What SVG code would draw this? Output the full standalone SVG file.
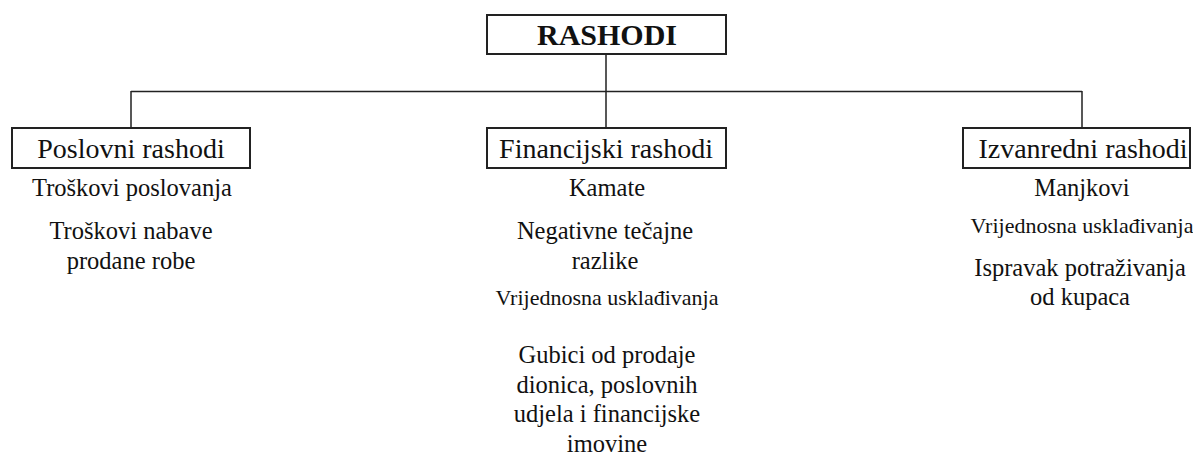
<svg xmlns="http://www.w3.org/2000/svg" width="1193" height="457" viewBox="0 0 1193 457">
<style>
.box{fill:#fff;stroke:#222;stroke-width:2}
.ln{stroke:#222;stroke-width:1.5;fill:none}
.t{font-family:"Liberation Serif","Times New Roman",serif;fill:#111;text-anchor:middle}
.h{font-size:28px}
.i{font-size:24.5px}
.s{font-size:22px}
.b{font-size:30px;font-weight:bold}
</style>
<rect width="1193" height="457" fill="#fff"/>
<g id="connectors">
<path class="ln" d="M606,54 V128 M131,91.5 H1082 M131,91 V128 M1082,91 V128"/>
</g>
<g id="rashodi">
<rect class="box" x="487" y="15" width="239" height="39"/>
<text class="t b" x="607" y="45">RASHODI</text>
</g>
<g id="poslovni">
<rect class="box" x="12" y="128" width="238" height="40"/>
<text class="t h" x="131" y="158">Poslovni rashodi</text>
<text class="t i" x="132" y="196">Troškovi poslovanja</text>
<text class="t i" x="131" y="239">Troškovi nabave</text>
<text class="t i" x="131" y="269">prodane robe</text>
</g>
<g id="financijski">
<rect class="box" x="487" y="128" width="239" height="40"/>
<text class="t h" x="606" y="158">Financijski rashodi</text>
<text class="t i" x="607" y="196">Kamate</text>
<text class="t i" x="605" y="239">Negativne tečajne</text>
<text class="t i" x="605" y="269">razlike</text>
<text class="t s" x="607" y="305">Vrijednosna usklađivanja</text>
<text class="t i" x="607" y="363">Gubici od prodaje</text>
<text class="t i" x="607" y="393">dionica, poslovnih</text>
<text class="t i" x="607" y="422">udjela i financijske</text>
<text class="t i" x="607" y="452">imovine</text>
</g>
<g id="izvanredni">
<rect class="box" x="963" y="128" width="227" height="40"/>
<text class="t h" x="1083" y="158">Izvanredni rashodi</text>
<text class="t i" x="1082" y="196">Manjkovi</text>
<text class="t s" x="1082" y="233">Vrijednosna usklađivanja</text>
<text class="t i" x="1080" y="276">Ispravak potraživanja</text>
<text class="t i" x="1080" y="305">od kupaca</text>
</g>
</svg>
